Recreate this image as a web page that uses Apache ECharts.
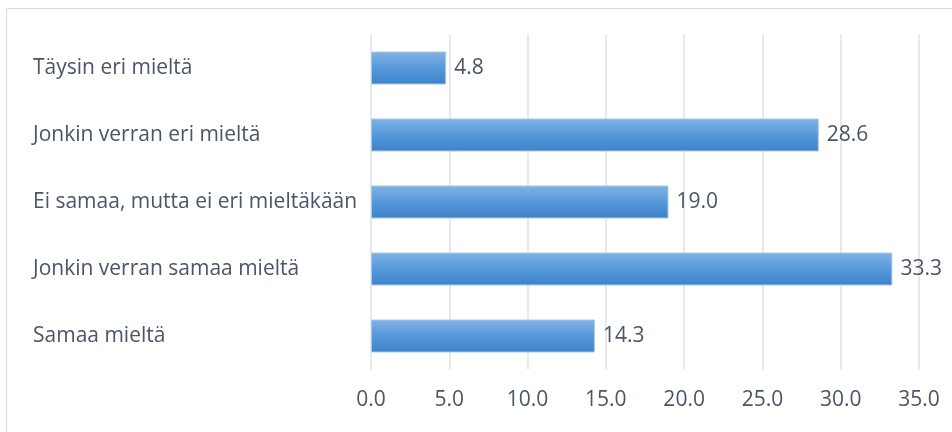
<!DOCTYPE html>
<html>
<head>
<meta charset="utf-8">
<script src="https://cdn.jsdelivr.net/npm/echarts@6/dist/echarts.min.js"></script>
<style>
  html, body { margin: 0; padding: 0; background: #ffffff; }
  #chart { width: 952px; height: 432px; }
</style>
</head>
<body>
<div id="chart"></div>
<script>
// Survey answers, listed top to bottom
const categories = [
  'Täysin eri mieltä',
  'Jonkin verran eri mieltä',
  'Ei samaa, mutta ei eri mieltäkään',
  'Jonkin verran samaa mieltä',
  'Samaa mieltä'
];
const shares = [4.8, 28.6, 19.0, 33.3, 14.3];
const tickStep = 5;
const axisMax = 35;

const textColor = '#4a5568';
const fontFamily = '"Open Sans", "Noto Sans", sans-serif';
const fontSize = 21;

const chart = echarts.init(document.getElementById('chart'), null, { renderer: 'canvas' });

chart.setOption({
  animation: false,
  backgroundColor: '#ffffff',
  graphic: [{
    type: 'rect',
    shape: { x: 6.5, y: 8.5, width: 960, height: 440 },
    style: { fill: 'none', stroke: '#d9d9d9', lineWidth: 1 },
    silent: true
  }],
  grid: { left: 371, right: 33, top: 34.5, bottom: 62.5, containLabel: false },
  xAxis: {
    type: 'value',
    min: 0,
    max: axisMax,
    interval: tickStep,
    axisLine: { show: false },
    axisTick: { show: false },
    splitLine: { show: true, lineStyle: { color: '#dfe2e8', width: 1.5 } },
    axisLabel: {
      color: textColor,
      fontFamily: fontFamily,
      fontSize: fontSize,
      margin: 20,
      formatter: v => v.toFixed(1)
    }
  },
  yAxis: {
    type: 'category',
    data: categories,
    inverse: true,
    axisLine: { show: false },
    axisTick: { show: false },
    splitLine: { show: false },
    axisLabel: {
      color: textColor,
      fontFamily: fontFamily,
      fontSize: fontSize,
      align: 'left',
      margin: 338,
      lineHeight: 26,
      padding: [4, 0, 0, 0]
    }
  },
  series: [{
    type: 'bar',
    data: shares,
    barWidth: 33,
    itemStyle: {
      color: new echarts.graphic.LinearGradient(0, 0, 0, 1, [
        { offset: 0, color: '#82b3e3' },
        { offset: 0.5, color: '#5698da' },
        { offset: 1, color: '#3d82c9' }
      ]),
      borderColor: '#a9c9ea',
      borderWidth: 1
    },
    label: {
      show: true,
      position: 'right',
      distance: 8,
      color: textColor,
      fontFamily: fontFamily,
      fontSize: fontSize,
      formatter: p => p.value.toFixed(1)
    }
  }]
});
</script>
</body>
</html>
